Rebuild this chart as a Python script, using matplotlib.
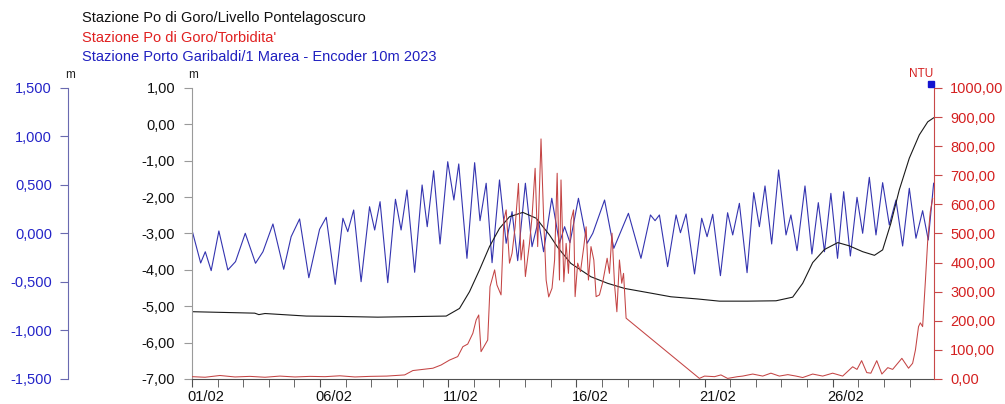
import numpy as np
import pandas as pd
import matplotlib
matplotlib.use('Agg')
import matplotlib.pyplot as plt
import matplotlib.dates as mdates
from matplotlib.ticker import FuncFormatter
import matplotlib.transforms as mtransforms

plt.rcParams['font.family'] = ['Liberation Sans', 'DejaVu Sans']

# days since 01/02 00:00
start = pd.Timestamp('2024-02-01')

# Porto Garibaldi tide (m), left blue axis
tide_days = [0.00, 0.34, 0.52, 0.75, 1.05, 1.40, 1.70, 2.08, 2.48, 2.77,
             3.16, 3.58, 3.87, 4.20, 4.56, 4.98, 5.24, 5.59, 5.89, 6.08,
             6.31, 6.60, 6.93, 7.13, 7.34, 7.64, 7.94, 8.16, 8.39, 8.69,
             8.98, 9.18, 9.43, 9.68, 9.98, 10.22, 10.41, 10.73, 11.03, 11.24,
             11.48, 11.71, 12.00, 12.26, 12.49, 12.71, 13.01, 13.27, 13.52, 13.72,
             14.04, 14.34, 14.54, 14.75, 15.08, 15.42, 15.64, 16.10, 16.46, 17.03,
             17.52, 17.89, 18.07, 18.24, 18.56, 18.89, 19.06, 19.28, 19.61, 19.89,
             20.10, 20.32, 20.62, 20.90, 21.10, 21.36, 21.66, 21.92, 22.14, 22.36,
             22.62, 22.89, 23.18, 23.37, 23.61, 23.92, 24.19, 24.44, 24.68, 24.93,
             25.19, 25.43, 25.69, 25.95, 26.17, 26.43, 26.69, 26.95, 27.21, 27.47,
             27.73, 27.99, 28.25, 28.51, 28.73, 28.94]
tide_m = [0.036, -0.304, -0.188, -0.383, 0.026, -0.376, -0.29, 0.002, -0.307, -0.188,
          0.098, -0.369, -0.033, 0.150, -0.456, 0.043, 0.167, -0.524, 0.157, 0.019,
          0.242, -0.497, 0.276, 0.036, 0.328, -0.507, 0.353, 0.036, 0.448, -0.400,
          0.500, 0.070, 0.647, -0.108, 0.740, 0.345, 0.717, -0.256, 0.730, 0.132,
          0.518, -0.301, 0.552, -0.101, 0.225, -0.280, 0.518, -0.136, 0.139, -0.188,
          0.363, -0.101, 0.070, -0.095, 0.363, -0.101, 0.002, 0.345, -0.153, 0.208,
          -0.256, 0.191, 0.132, 0.191, -0.342, 0.191, 0.008, 0.201, -0.417, 0.157,
          -0.033, 0.198, -0.435, 0.214, -0.015, 0.311, -0.404, 0.421, 0.070, 0.490,
          -0.108, 0.655, -0.015, 0.191, -0.177, 0.490, -0.211, 0.318, -0.188, 0.414,
          -0.256, 0.431, -0.232, 0.373, 0.002, 0.579, -0.015, 0.524, 0.088, 0.345,
          -0.129, 0.466, -0.049, 0.235, -0.067, 0.518]

# Pontelagoscuro level (m), middle black axis
level_days = [0.00, 2.45, 2.61, 2.85, 4.46, 5.77, 7.25, 9.92, 10.44, 10.83,
              11.22, 11.61, 12.00, 12.39, 12.91, 13.43, 13.95, 14.27, 14.78, 15.57,
              16.22, 16.88, 17.91, 18.69, 19.73, 20.58, 21.68, 22.79, 23.44, 23.83,
              24.22, 24.68, 25.20, 25.65, 26.17, 26.63, 26.95, 27.27, 27.60, 27.99,
              28.38, 28.71, 28.94]
level_m = [-5.15, -5.19, -5.23, -5.20, -5.27, -5.28, -5.30, -5.27, -5.06, -4.60,
           -4.00, -3.36, -2.86, -2.54, -2.42, -2.58, -3.04, -3.38, -3.82, -4.19,
           -4.37, -4.51, -4.64, -4.74, -4.80, -4.86, -4.86, -4.85, -4.75, -4.37,
           -3.80, -3.44, -3.25, -3.34, -3.50, -3.60, -3.45, -2.72, -1.80, -0.93,
           -0.29, 0.07, 0.18]

# Po di Goro turbidity (NTU), right red axis
turb_days = [0.00, 0.51, 1.09, 1.68, 2.26, 2.85, 3.43, 4.02, 4.60, 5.19, 5.77, 6.36, 6.94, 7.60,
             8.30, 8.62, 9.01, 9.40, 9.72, 10.05, 10.37, 10.57, 10.76, 10.96,
             11.09, 11.19, 11.28, 11.54, 11.63, 11.81, 11.90, 12.06, 12.17, 12.26,
             12.39, 12.49, 12.61, 12.74, 12.84, 12.94, 13.01, 13.17, 13.27, 13.39,
             13.49, 13.62, 13.72, 13.82, 13.92, 14.05, 14.15, 14.25, 14.34, 14.40,
             14.51, 14.60, 14.69, 14.79, 14.89, 14.95, 15.05, 15.16, 15.29, 15.38,
             15.47, 15.57, 15.68, 15.77, 15.90, 16.03, 16.20, 16.29, 16.39, 16.49,
             16.58, 16.68, 16.77, 16.84, 16.94, 19.80, 20.00, 20.39, 20.64, 20.90,
             21.29, 21.49, 21.88, 22.27, 22.59, 22.92, 23.25, 23.57, 23.83, 24.22,
             24.61, 25.00, 25.39, 25.78, 25.95, 26.13, 26.33, 26.49, 26.72, 26.92,
             27.15, 27.34, 27.70, 27.96, 28.12, 28.23, 28.35, 28.42, 28.51, 28.62,
             28.71, 28.81, 28.90]
turb_ntu = [8, 6, 12, 7, 9, 6, 10, 7, 9, 8, 11, 7, 9, 10,
            14, 29, 33, 37, 48, 65, 77, 111, 120, 157,
            203, 220, 94, 134, 317, 375, 323, 289, 546, 581,
            398, 432, 523, 672, 409, 478, 352, 466, 558, 724,
            455, 825, 558, 340, 282, 312, 409, 707, 340, 684,
            334, 466, 363, 546, 581, 283, 398, 369, 455, 523,
            340, 455, 409, 283, 289, 334, 415, 363, 501, 323,
            231, 409, 329, 363, 209, 2, 10, 8, 14, 2,
            8, 10, 17, 10, 20, 10, 15, 10, 5, 17,
            10, 20, 10, 42, 33, 63, 22, 20, 63, 17,
            39, 33, 71, 37, 54, 100, 180, 193, 180, 340,
            478, 575, 620]

titles = ["Stazione Po di Goro/Livello Pontelagoscuro",
          "Stazione Po di Goro/Torbidita'",
          "Stazione Porto Garibaldi/1 Marea - Encoder 10m 2023"]
title_colors = ['#101010', '#e02020', '#2020c0']

BLUE = '#3434b0'
RED = '#c44444'
BLUE_TXT = '#2424c8'
RED_TXT = '#d42020'
FS = 10.5


def to_dates(days):
    return start + pd.to_timedelta(days, unit='D')


def comma(dec):
    return FuncFormatter(lambda v, p: f"{v:.{dec}f}".replace('.', ','))


fig = plt.figure(figsize=(10.05, 4.04), dpi=100)
ax = fig.add_axes([0.191, 0.0619, 0.738, 0.7203])
ax_b = ax.twinx()
ax_r = ax.twinx()
ax_b.set_zorder(1)
ax.set_zorder(2)
ax_r.set_zorder(3)
for a in (ax, ax_b, ax_r):
    a.patch.set_visible(False)
    for s in a.spines.values():
        s.set_visible(False)

ax_b.plot(to_dates(tide_days), tide_m, color=BLUE, lw=0.8, solid_joinstyle='round')
ax.plot(to_dates(level_days), level_m, color='#1a1a1a', lw=0.8)
ax_r.plot(to_dates(turb_days), turb_ntu, color=RED, lw=0.75)

ax.set_xlim(start, start + pd.Timedelta(days=28.94))

# middle axis
ax.set_ylim(-7, 1)
ax.set_yticks(np.arange(-7, 1.1, 1))
ax.yaxis.set_major_formatter(comma(2))
ax.spines['left'].set_visible(True)
ax.spines['left'].set_color('#9a9a9a')
ax.spines['bottom'].set_visible(True)
ax.spines['bottom'].set_color('#505050')
ax.tick_params(axis='y', direction='out', length=6, pad=6, labelsize=FS,
               colors='#9a9a9a', labelcolor='#101010')

# left blue axis
ax_b.set_ylim(-1.5, 1.5)
ax_b.set_yticks(np.arange(-1.5, 1.51, 0.5))
ax_b.yaxis.set_major_formatter(comma(3))
ax_b.yaxis.set_ticks_position('left')
ax_b.spines['left'].set_visible(True)
ax_b.spines['left'].set_position(('axes', -124 / 742))
ax_b.spines['left'].set_color('#6a6ab0')
ax_b.tick_params(axis='y', direction='out', length=6, pad=5.5, labelsize=FS,
                 colors='#6a6ab0', labelcolor=BLUE_TXT)

# right red axis
ax_r.set_ylim(0, 1000)
ax_r.set_yticks(np.arange(0, 1001, 100))
ax_r.yaxis.set_major_formatter(comma(2))
ax_r.spines['right'].set_visible(True)
ax_r.spines['right'].set_color('#c84848')
ax_r.tick_params(axis='y', direction='out', length=6, pad=6, labelsize=FS,
                 colors='#c84848', labelcolor=RED_TXT)

# x axis: a tick per day, label every 5 days
ax.xaxis.set_major_locator(mdates.DayLocator(bymonthday=[1, 6, 11, 16, 21, 26]))
ax.xaxis.set_major_formatter(mdates.DateFormatter('%d/%m'))
ax.xaxis.set_minor_locator(mdates.DayLocator())
ax.tick_params(axis='x', which='both', direction='out', length=6, colors='#505050',
               labelcolor='#101010', labelsize=FS, pad=2)
offset = mtransforms.ScaledTranslation(-5 / 100, 0, fig.dpi_scale_trans)
for lab in ax.get_xticklabels():
    lab.set_horizontalalignment('left')
    lab.set_transform(lab.get_transform() + offset)

# unit labels
fig.text(70 / 1005, 1 - 75 / 404, 'm', fontsize=8.5, color='#202020', ha='center', va='center')
fig.text(193 / 1005, 1 - 75 / 404, 'm', fontsize=8.5, color='#202020', ha='center', va='center')
fig.text(921 / 1005, 1 - 74 / 404, 'NTU', fontsize=8.5, color=RED_TXT, ha='center', va='center')

# blue marker at top right
ax.plot([0.997], [1.0137], 's', color='#1414d0', ms=5, transform=ax.transAxes, clip_on=False)

for i, (t, c) in enumerate(zip(titles, title_colors)):
    fig.text(82 / 1005, 1 - (18 + 19.5 * i) / 404, t, fontsize=FS, color=c, va='center', ha='left')

fig.savefig('out.png', dpi=100, facecolor='white')
